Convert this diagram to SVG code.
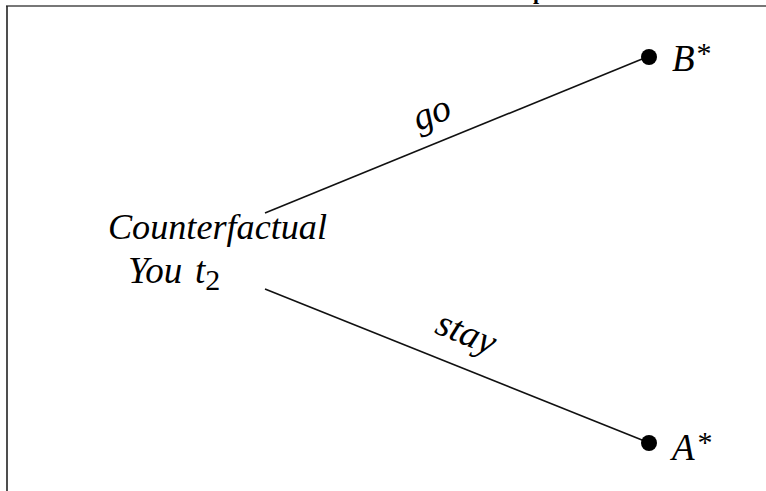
<svg xmlns="http://www.w3.org/2000/svg" width="766" height="491" viewBox="0 0 766 491">
<style>
.lbl{font-family:"Liberation Serif","Times New Roman",serif;font-style:italic;fill:#000;}
.edge{stroke:#111;stroke-width:1.6;fill:none;}
.dot{fill:#000;}
</style>
<rect width="766" height="491" fill="#fff"/>
<g id="frame">
<line x1="6" y1="6" x2="766" y2="6" stroke="#777" stroke-width="2"/>
<line x1="7" y1="6" x2="7" y2="491" stroke="#222" stroke-width="1.6"/>
<text x="533" y="-1" font-family="Liberation Serif, serif" font-weight="bold" font-size="22">p</text>
</g>
<g id="connectors">
<line class="edge" x1="265" y1="213" x2="647" y2="57"/>
<line class="edge" x1="265" y1="289" x2="647" y2="442"/>
<text class="lbl" font-size="38" text-anchor="middle" transform="translate(436,124) rotate(-22)">go</text>
<text class="lbl" font-size="38" text-anchor="middle" transform="translate(462,344) rotate(22)">stay</text>
</g>
<g id="node-root">
<text class="lbl" x="108" y="239" font-size="36" textLength="219" lengthAdjust="spacingAndGlyphs">Counterfactual</text>
<text class="lbl" x="128" y="283" font-size="37">You <tspan x="195">t</tspan><tspan font-style="normal" font-size="30" dy="7">2</tspan></text>
</g>
<g id="node-B">
<circle class="dot" cx="649" cy="57" r="8"/>
<text class="lbl" x="672" y="71" font-size="37">B<tspan font-style="normal" font-size="30" dy="-8" dx="2">*</tspan></text>
</g>
<g id="node-A">
<circle class="dot" cx="649" cy="443" r="8"/>
<text class="lbl" x="672" y="460" font-size="37">A<tspan font-style="normal" font-size="30" dy="-8" dx="3">*</tspan></text>
</g>
</svg>
